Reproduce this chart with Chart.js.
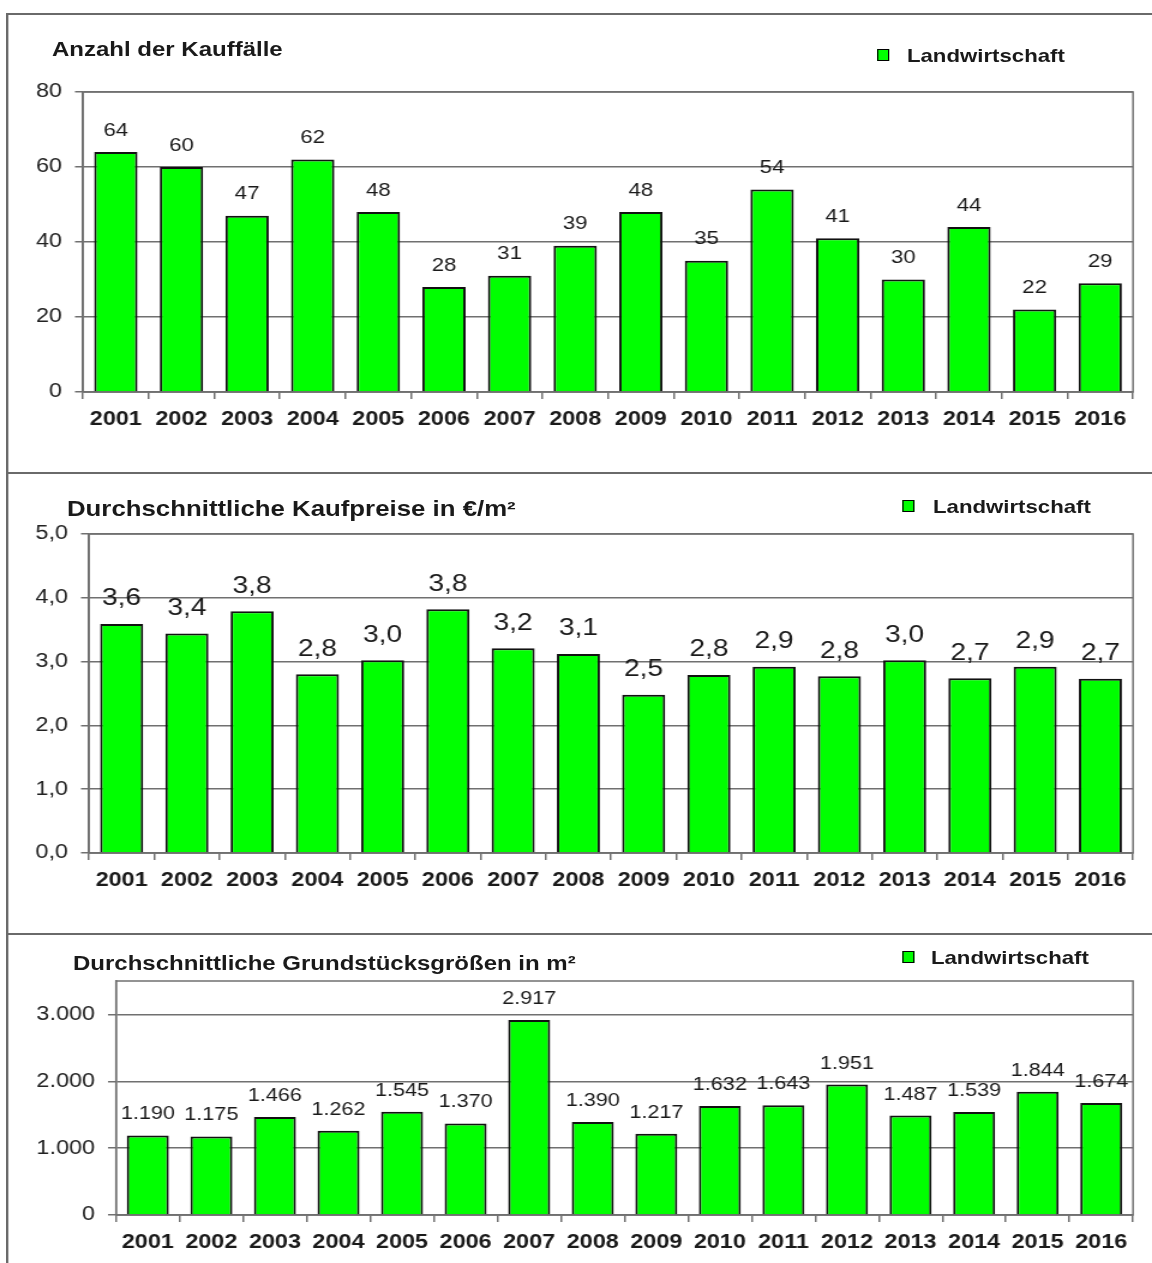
<!DOCTYPE html>
<html lang="de">
<head>
<meta charset="UTF-8">
<title>Landwirtschaft</title>
<script src="https://cdn.jsdelivr.net/npm/chart.js@4"></script>
<style>
  html, body { margin: 0; padding: 0; background: #fff; }
  body { width: 1152px; height: 1263px; overflow: hidden; position: relative; }
  /* the reference is stretched sideways, so the whole sheet is drawn narrow and widened */
  #page { position: absolute; left: 0; top: 0; width: 960px; height: 1263px;
          transform: scaleX(1.2); transform-origin: 0 0;
          font-family: 'Liberation Sans', Arial, sans-serif; color: #1a1a1a; }
  .rule { position: absolute; background: #6a6a6a; }
  .title { position: absolute; font-weight: bold; font-size: 20px; line-height: 20px; white-space: nowrap; }
  .legend { position: absolute; font-weight: bold; font-size: 18.5px; line-height: 19px; white-space: nowrap; }
  .box { position: absolute; width: 8.6px; height: 10.5px; background: #00ff00;
         border-style: solid; border-color: #000; border-width: 1.5px 1.25px; }
  canvas { position: absolute; left: 0; }
</style>
</head>
<body>
<div id="page">
  <div class="rule" style="left:5.8px; top:13px; width:955px; height:2px"></div>
  <div class="rule" style="left:5.4px; top:13px; width:1.7px; height:1250px"></div>
  <div class="rule" style="left:5.8px; top:472px; width:955px; height:2px"></div>
  <div class="rule" style="left:5.8px; top:933px; width:955px; height:2px"></div>

  <canvas id="c1" width="960" height="444" style="top:16px; width:960px; height:444px"></canvas>
  <canvas id="c2" width="960" height="449" style="top:476px; width:960px; height:449px"></canvas>
  <canvas id="c3" width="960" height="326" style="top:937px; width:960px; height:326px"></canvas>

  <div class="title" style="left:43.3px; top:39px">Anzahl der Kauffälle</div>
  <div class="box" style="left:730.8px; top:48.5px"></div>
  <div class="legend" style="left:755.8px; top:46px">Landwirtschaft</div>

  <div class="title" style="left:55.8px; top:499px; font-size:21.5px">Durchschnittliche Kaufpreise in €/m²</div>
  <div class="box" style="left:751.7px; top:499.5px"></div>
  <div class="legend" style="left:777.5px; top:497px">Landwirtschaft</div>

  <div class="title" style="left:60.8px; top:953px">Durchschnittliche Grundstücksgrößen in m²</div>
  <div class="box" style="left:751.7px; top:950.5px"></div>
  <div class="legend" style="left:775.8px; top:948px">Landwirtschaft</div>
</div>

<script>
  const years = ['2001', '2002', '2003', '2004', '2005', '2006', '2007', '2008',
                 '2009', '2010', '2011', '2012', '2013', '2014', '2015', '2016'];
  const kauffaelle = [64, 60, 47, 62, 48, 28, 31, 39, 48, 35, 54, 41, 30, 44, 22, 29];
  const kaufpreise = [3.59, 3.44, 3.79, 2.8, 3.02, 3.82, 3.21, 3.12, 2.48, 2.79, 2.92, 2.77, 3.02, 2.74, 2.92, 2.73];
  const groessen = [1190, 1175, 1466, 1262, 1545, 1370, 2917, 1390, 1217, 1632, 1643, 1951, 1487, 1539, 1844, 1674];

  const ticksAnzahl = [0, 20, 40, 60, 80];
  const ticksPreis = [0, 1, 2, 3, 4, 5];
  const ticksGroesse = [0, 1000, 2000, 3000];

  const FONT = "'Liberation Sans', Arial, sans-serif";
  const GRAY = '#707070';
  const INK = '#1a1a1a';

  const komma = v => v.toFixed(1).replace('.', ',');
  const tausend = v => String(Math.round(v)).replace(/\B(?=(\d{3})+(?!\d))/g, '.');

  // grey frame round the plot area
  const frame = {
    id: 'frame',
    beforeDatasetsDraw(chart) {
      const a = chart.chartArea, ctx = chart.ctx;
      ctx.save();
      ctx.strokeStyle = GRAY;
      ctx.lineWidth = 1.5;
      ctx.strokeRect(a.left, a.top, a.right - a.left, a.bottom - a.top);
      ctx.restore();
    }
  };

  function barChart(id, values, cfg) {
    const valueLabels = {
      id: 'valueLabels',
      afterDatasetsDraw(chart) {
        const ctx = chart.ctx;
        ctx.save();
        ctx.font = cfg.labelFont;
        ctx.fillStyle = INK;
        ctx.textAlign = 'center';
        ctx.textBaseline = 'alphabetic';
        chart.getDatasetMeta(0).data.forEach((bar, i) => {
          ctx.fillText(cfg.fmtLabel(values[i]), bar.x, bar.y - cfg.gap);
        });
        ctx.restore();
      }
    };

    return new Chart(document.getElementById(id), {
      type: 'bar',
      data: {
        labels: years,
        datasets: [{
          label: 'Landwirtschaft',
          data: values,
          backgroundColor: '#00ff00',
          borderColor: '#111',
          borderWidth: 2,
          barPercentage: 0.66,
          categoryPercentage: 1
        }]
      },
      options: {
        responsive: false,
        animation: false,
        layout: { padding: { top: cfg.padTop, right: 15.83, bottom: 0, left: 0 } },
        plugins: { legend: { display: false }, tooltip: { enabled: false } },
        scales: {
          x: {
            offset: true,
            grid: { offset: true, drawOnChartArea: false, tickLength: 7, color: GRAY, lineWidth: 1.5 },
            border: { color: GRAY, width: 1.5 },
            ticks: { color: INK, padding: 9, maxRotation: 0, autoSkip: false,
                     font: { family: FONT, size: 19.5, weight: 'bold' } },
            afterFit: s => { s.height = cfg.xHeight; }
          },
          y: {
            min: 0,
            max: cfg.max,
            afterBuildTicks: s => { s.ticks = cfg.ticks.map(v => ({ value: v })); },
            grid: { color: GRAY, lineWidth: 1.5, tickLength: 6.7 },
            border: { color: GRAY, width: 1.5 },
            ticks: { color: '#222', padding: 10.8, font: { family: FONT, size: 19.5 },
                     callback: v => cfg.fmtTick(v) },
            afterFit: s => { s.width = cfg.yWidth; }
          }
        }
      },
      plugins: [frame, valueLabels]
    });
  }

  barChart('c1', kauffaelle, {
    max: 80, ticks: ticksAnzahl, padTop: 76, xHeight: 68, yWidth: 69.17,
    fmtTick: v => String(v), fmtLabel: v => String(v),
    labelFont: '18.5px ' + FONT, gap: 16.5
  });

  barChart('c2', kaufpreise, {
    max: 5, ticks: ticksPreis, padTop: 58, xHeight: 72, yWidth: 74.17,
    fmtTick: komma, fmtLabel: komma,
    labelFont: '23.5px ' + FONT, gap: 18.5
  });

  barChart('c3', groessen, {
    max: 3500, ticks: ticksGroesse, padTop: 44, xHeight: 48, yWidth: 96.67,
    fmtTick: tausend, fmtLabel: tausend,
    labelFont: '18px ' + FONT, gap: 16
  });
</script>
</body>
</html>
